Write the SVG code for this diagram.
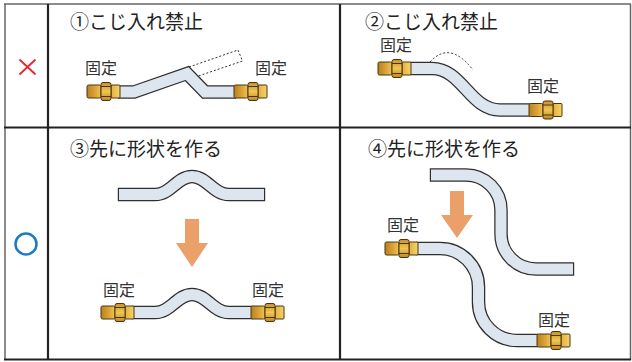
<svg xmlns="http://www.w3.org/2000/svg" width="632" height="362" viewBox="0 0 632 362">
  <style>
    .hdr { font-family: "Noto Sans CJK JP", "Noto Sans", sans-serif; font-size: 19px; fill: #222; }
    .lbl { font-family: "Noto Sans CJK JP", "Noto Sans", sans-serif; font-size: 16px; fill: #333; }
    .pipe-o { fill: none; stroke: #2f2f2f; stroke-width: 13.5; stroke-linejoin: miter; stroke-linecap: butt; }
    .pipe-i { fill: none; stroke: #dde6ee; stroke-width: 11; stroke-linejoin: miter; stroke-linecap: butt; }
    .grid-thin { stroke: #666; stroke-width: 1.5; fill: none; }
    .grid { stroke: #222; stroke-width: 2.2; fill: none; }
    .arrow { fill: #eba06a; }
    .dash { fill: none; stroke: #333; stroke-width: 1; stroke-dasharray: 2 2; }
  </style>
  <defs>
    <linearGradient id="brassBody" x1="0" y1="0" x2="1" y2="0">
      <stop offset="0" stop-color="#b8801f"/>
      <stop offset="0.6" stop-color="#dca53a"/>
      <stop offset="1" stop-color="#efc454"/>
    </linearGradient>
    <linearGradient id="brassNut" x1="0" y1="0" x2="0" y2="1">
      <stop offset="0" stop-color="#c99129"/>
      <stop offset="0.5" stop-color="#f0c654"/>
      <stop offset="1" stop-color="#c08824"/>
    </linearGradient>
    <linearGradient id="brassCollar" x1="0" y1="0" x2="1" y2="0">
      <stop offset="0" stop-color="#e3b03e"/>
      <stop offset="1" stop-color="#f6d46a"/>
    </linearGradient>
    <!-- brass fitting, origin at left end, vertical centre -->
    <g id="fitting" stroke="#4a3410" stroke-width="1">
      <rect x="0" y="-6.5" width="14" height="13" rx="1.5" fill="url(#brassBody)"/>
      <rect x="24" y="-6.5" width="9" height="13" rx="1" fill="url(#brassCollar)"/>
      <rect x="14" y="-9" width="10" height="18" rx="2" fill="url(#brassNut)"/>
      <line x1="14" y1="-5" x2="24" y2="-5"/>
      <line x1="14" y1="5" x2="24" y2="5"/>
    </g>
  </defs>

  <rect x="0" y="0" width="632" height="362" fill="#fff"/>

  <!-- table grid -->
  <g id="table">
    <line class="grid-thin" x1="4" y1="4" x2="631" y2="4"/>
    <line class="grid-thin" x1="5" y1="4" x2="5" y2="360"/>
    <line class="grid-thin" x1="630.5" y1="4" x2="630.5" y2="360"/>
    <line class="grid" x1="4" y1="127.5" x2="631" y2="127.5"/>
    <line class="grid" x1="4" y1="359.5" x2="631" y2="359.5"/>
    <line class="grid" x1="48" y1="4" x2="48" y2="360"/>
    <line class="grid" x1="340" y1="4" x2="340" y2="360"/>
  </g>

  <!-- row marks -->
  <g id="mark-ng" stroke="#e5262d" stroke-width="1.8" stroke-linecap="round">
    <line x1="20" y1="60" x2="35" y2="74"/>
    <line x1="35" y1="60" x2="20" y2="74"/>
  </g>
  <g id="mark-ok">
    <circle cx="26" cy="244" r="10.5" fill="none" stroke="#1b7cc6" stroke-width="2.5"/>
  </g>

  <!-- panel 1: forcing the pipe in -->
  <g id="panel-1">
    <text class="hdr" x="70" y="28.5">①こじ入れ禁止</text>
    <text class="lbl" x="85" y="74">固定</text>
    <text class="lbl" x="255" y="74">固定</text>
    <path class="dash" d="M189,67 L238,50 L242.5,61 L197,76.5"/>
    <path class="pipe-o" d="M118,92 L134,92 L187,73.5 L205,92 L236,92"/>
    <path class="pipe-i" d="M118,92 L134,92 L187,73.5 L205,92 L236,92"/>
    <use href="#fitting" x="87" y="91.5"/>
    <use href="#fitting" x="234" y="91.5"/>
  </g>

  <!-- panel 2: forcing the pipe in -->
  <g id="panel-2">
    <text class="hdr" x="365" y="28.5">②こじ入れ禁止</text>
    <text class="lbl" x="380" y="51">固定</text>
    <text class="lbl" x="527" y="92">固定</text>
    <path class="dash" d="M430,62 Q450,40 473,70"/>
    <path class="pipe-o" d="M410,68.5 L432,68.5 C462,68.5 470,110 500,110 L530,110"/>
    <path class="pipe-i" d="M410,68.5 L432,68.5 C462,68.5 470,110 500,110 L530,110"/>
    <use href="#fitting" x="378" y="68.5"/>
    <use href="#fitting" x="529" y="110"/>
  </g>

  <!-- panel 3: shape first -->
  <g id="panel-3">
    <text class="hdr" x="70" y="156">③先に形状を作る</text>
    <path class="pipe-o" d="M117.8,194.5 L155,194.5 C171,194.5 177,176.5 192,176.5 C207,176.5 213,194.5 229,194.5 L265.2,194.5"/>
    <path class="pipe-i" d="M119,194.5 L155,194.5 C171,194.5 177,176.5 192,176.5 C207,176.5 213,194.5 229,194.5 L264,194.5"/>
    <polygon class="arrow" points="185,219 199,219 199,243 208,243 192,267 176,243 185,243"/>
    <text class="lbl" x="103" y="296">固定</text>
    <text class="lbl" x="252" y="296">固定</text>
    <path class="pipe-o" d="M132,312.5 L155,312.5 C171,312.5 177,294.5 192,294.5 C207,294.5 213,312.5 229,312.5 L253,312.5"/>
    <path class="pipe-i" d="M132,312.5 L155,312.5 C171,312.5 177,294.5 192,294.5 C207,294.5 213,312.5 229,312.5 L253,312.5"/>
    <use href="#fitting" x="101" y="312.5"/>
    <use href="#fitting" x="251" y="312.5"/>
  </g>

  <!-- panel 4: shape first -->
  <g id="panel-4">
    <text class="hdr" x="368" y="156">④先に形状を作る</text>
    <path class="pipe-o" d="M429.8,175 L466,175 A35,35 0 0 1 501,210 L501,234 A35,35 0 0 0 536,269 L574.2,269"/>
    <path class="pipe-i" d="M431,175 L466,175 A35,35 0 0 1 501,210 L501,234 A35,35 0 0 0 536,269 L573,269"/>
    <polygon class="arrow" points="450,191 464,191 464,215 473,215 457,238 441,215 450,215"/>
    <text class="lbl" x="387" y="231">固定</text>
    <text class="lbl" x="538" y="326">固定</text>
    <path class="pipe-o" d="M416,248.5 L440,248.5 A38.5,38.5 0 0 1 478.5,287 L478.5,302 A38.5,38.5 0 0 0 517,340.5 L538,340.5"/>
    <path class="pipe-i" d="M416,248.5 L440,248.5 A38.5,38.5 0 0 1 478.5,287 L478.5,302 A38.5,38.5 0 0 0 517,340.5 L538,340.5"/>
    <use href="#fitting" x="385" y="248.5"/>
    <use href="#fitting" x="537" y="340.5"/>
  </g>
</svg>
